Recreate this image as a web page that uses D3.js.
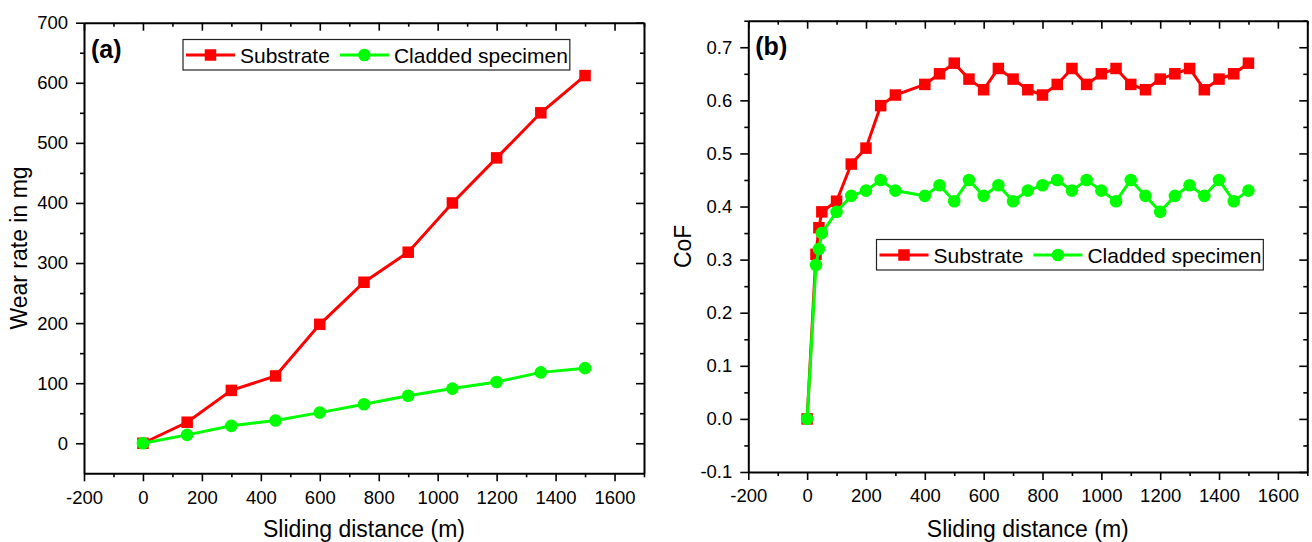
<!DOCTYPE html>
<html>
<head>
<meta charset="utf-8">
<script src="https://cdn.jsdelivr.net/npm/d3@7"></script>
<style>
  html, body { margin: 0; padding: 0; background: #fff; }
  svg { display: block; font-family: "Liberation Sans", Arial, sans-serif; }
</style>
</head>
<body>
<svg id="chart" width="1312" height="542"></svg>
<script>
// --- data ---
const wearDistance = [0, 150, 300, 450, 600, 750, 900, 1050, 1200, 1350, 1500];
const wearSubstrate = [0, 35, 88, 112, 198, 268, 318, 400, 475, 550, 612];
const wearCladded = [0, 14, 29, 38, 51, 65, 79, 91, 102, 118, 125];

const cofDistance = [0, 30, 40, 50, 100, 150, 200, 250, 300, 400, 450, 500, 550, 600, 650, 700,
  750, 800, 850, 900, 950, 1000, 1050, 1100, 1150, 1200, 1250, 1300, 1350, 1400, 1450, 1500];
const cofSubstrate = [0, 0.31, 0.36, 0.39, 0.41, 0.48, 0.51, 0.59, 0.61, 0.63, 0.65, 0.67, 0.64, 0.62, 0.66, 0.64,
  0.62, 0.61, 0.63, 0.66, 0.63, 0.65, 0.66, 0.63, 0.62, 0.64, 0.65, 0.66, 0.62, 0.64, 0.65, 0.67];
const cofCladded = [0, 0.29, 0.32, 0.35, 0.39, 0.42, 0.43, 0.45, 0.43, 0.42, 0.44, 0.41, 0.45, 0.42, 0.44, 0.41,
  0.43, 0.44, 0.45, 0.43, 0.45, 0.43, 0.41, 0.45, 0.42, 0.39, 0.42, 0.44, 0.42, 0.45, 0.41, 0.43];

const xTicks = [-200, 0, 200, 400, 600, 800, 1000, 1200, 1400, 1600];
const xMinorTicks = [-100, 100, 300, 500, 700, 900, 1100, 1300, 1500, 1700];
const wearTicks = [0, 100, 200, 300, 400, 500, 600, 700];
const wearMinorTicks = [50, 150, 250, 350, 450, 550, 650];
const cofTicks = [-0.1, 0, 0.1, 0.2, 0.3, 0.4, 0.5, 0.6, 0.7];
const cofMinorTicks = [-0.05, 0.05, 0.15, 0.25, 0.35, 0.45, 0.55, 0.65, 0.75];

const seriesNames = ['Substrate', 'Cladded specimen'];
const RED = '#ff0000';
const GREEN = '#00ff00';

const svg = d3.select('#chart');

// plain hyphen instead of the unicode minus d3.format would give
const fmtInt = d => String(d);
const fmtOne = d => d.toFixed(1);

function drawPanel(opt) {
  const g = svg.append('g');
  const x = d3.scaleLinear().domain([-200, 1700]).range([opt.left, opt.right]);
  const y = d3.scaleLinear().domain(opt.yDomain).range([opt.bottom, opt.top]);

  const major = 8, minor = 4;

  // bottom axis: majors with labels, minors without
  const bottom = g.append('g').attr('transform', `translate(0,${opt.bottom})`);
  bottom.call(d3.axisBottom(x).tickValues(xTicks).tickFormat(fmtInt).tickSizeInner(major).tickSizeOuter(0).tickPadding(opt.xPad));
  bottom.append('g').call(d3.axisBottom(x).tickValues(xMinorTicks).tickFormat('').tickSizeInner(minor).tickSizeOuter(0))
    .select('.domain').remove();

  // left axis
  const left = g.append('g').attr('transform', `translate(${opt.left},0)`);
  left.call(d3.axisLeft(y).tickValues(opt.yTicks).tickFormat(opt.yFormat).tickSizeInner(major).tickSizeOuter(0).tickPadding(8));
  left.append('g').call(d3.axisLeft(y).tickValues(opt.yMinor).tickFormat('').tickSizeInner(minor).tickSizeOuter(0))
    .select('.domain').remove();

  // mirrored top / right axes, ticks pointing inward
  const top = g.append('g').attr('transform', `translate(0,${opt.top})`);
  top.call(d3.axisTop(x).tickValues(xTicks).tickFormat('').tickSizeInner(-major).tickSizeOuter(0));
  top.append('g').call(d3.axisTop(x).tickValues(xMinorTicks).tickFormat('').tickSizeInner(-minor).tickSizeOuter(0))
    .select('.domain').remove();

  const right = g.append('g').attr('transform', `translate(${opt.right},0)`);
  right.call(d3.axisRight(y).tickValues(opt.yTicks).tickFormat('').tickSizeInner(-major).tickSizeOuter(0));
  right.append('g').call(d3.axisRight(y).tickValues(opt.yMinor).tickFormat('').tickSizeInner(-minor).tickSizeOuter(0))
    .select('.domain').remove();

  g.selectAll('.domain').attr('stroke', '#000').attr('stroke-width', 2);
  g.selectAll('.tick line').attr('stroke', '#000').attr('stroke-width', 1.6);
  g.selectAll('.tick text').attr('font-size', 18.5).attr('fill', '#000')
    .attr('font-family', '"Liberation Sans", Arial, sans-serif');

  // series
  const line = d3.line().x(d => x(d[0])).y(d => y(d[1]));
  const sub = opt.xs.map((v, i) => [v, opt.s1[i]]);
  const cla = opt.xs.map((v, i) => [v, opt.s2[i]]);

  g.append('path').datum(sub).attr('d', line).attr('fill', 'none').attr('stroke', RED).attr('stroke-width', 3);
  g.selectAll('rect.sub').data(sub).enter().append('rect').attr('class', 'sub')
    .attr('x', d => x(d[0]) - 5.75).attr('y', d => y(d[1]) - 5.75)
    .attr('width', 11.5).attr('height', 11.5).attr('fill', RED);

  g.append('path').datum(cla).attr('d', line).attr('fill', 'none').attr('stroke', GREEN).attr('stroke-width', 3);
  g.selectAll('circle.cla').data(cla).enter().append('circle').attr('class', 'cla')
    .attr('cx', d => x(d[0])).attr('cy', d => y(d[1])).attr('r', 6.3).attr('fill', GREEN);

  // axis titles
  g.append('text')
    .attr('x', (opt.left + opt.right) / 2).attr('y', 536.5)
    .attr('text-anchor', 'middle').attr('font-size', 23).attr('fill', '#000')
    .text('Sliding distance (m)');
  g.append('text')
    .attr('transform', `translate(${opt.yTitleX},${(opt.top + opt.bottom) / 2}) rotate(-90)`)
    .attr('text-anchor', 'middle').attr('font-size', 23).attr('fill', '#000')
    .text(opt.yTitle);

  // panel tag
  g.append('text').attr('x', opt.left + 7).attr('y', opt.tagY)
    .attr('font-size', 25).attr('font-weight', 'bold').attr('fill', '#000')
    .text(opt.tag);

  // legend
  const lg = g.append('g').attr('transform', `translate(${opt.legX},${opt.legY})`);
  const box = lg.append('rect').attr('x', 0).attr('y', 0).attr('height', 30.5)
    .attr('fill', '#fff').attr('stroke', '#222').attr('stroke-width', 1.2);
  let cx = 3;
  seriesNames.forEach((name, i) => {
    const col = i === 0 ? RED : GREEN;
    lg.append('line').attr('x1', cx).attr('x2', cx + 49).attr('y1', 15.5).attr('y2', 15.5)
      .attr('stroke', col).attr('stroke-width', 3);
    if (i === 0) {
      lg.append('rect').attr('x', cx + 24.5 - 5.75).attr('y', 15.5 - 5.75).attr('width', 11.5).attr('height', 11.5).attr('fill', col);
    } else {
      lg.append('circle').attr('cx', cx + 24.5).attr('cy', 15.5).attr('r', 6.3).attr('fill', col);
    }
    const t = lg.append('text').attr('x', cx + 54).attr('y', 23)
      .attr('font-size', 21).attr('fill', '#000').text(name);
    cx += 54 + t.node().getComputedTextLength() + (i === 0 ? 10 : 2);
  });
  box.attr('width', cx);
}

drawPanel({
  left: 84, right: 644, top: 22.7, bottom: 473.3,
  yDomain: [-50, 700], yTicks: wearTicks, yMinor: wearMinorTicks, yFormat: fmtInt,
  xs: wearDistance, s1: wearSubstrate, s2: wearCladded,
  yTitle: 'Wear rate in mg', yTitleX: 27, tag: '(a)', tagY: 58, xPad: 10,
  legX: 183, legY: 39.5
});

drawPanel({
  left: 748.3, right: 1307.3, top: 20.7, bottom: 472,
  yDomain: [-0.1, 0.75], yTicks: cofTicks, yMinor: cofMinorTicks, yFormat: fmtOne,
  xs: cofDistance, s1: cofSubstrate, s2: cofCladded,
  yTitle: 'CoF', yTitleX: 691, tag: '(b)', tagY: 55, xPad: 9,
  legX: 876.5, legY: 239.5
});
</script>
</body>
</html>
